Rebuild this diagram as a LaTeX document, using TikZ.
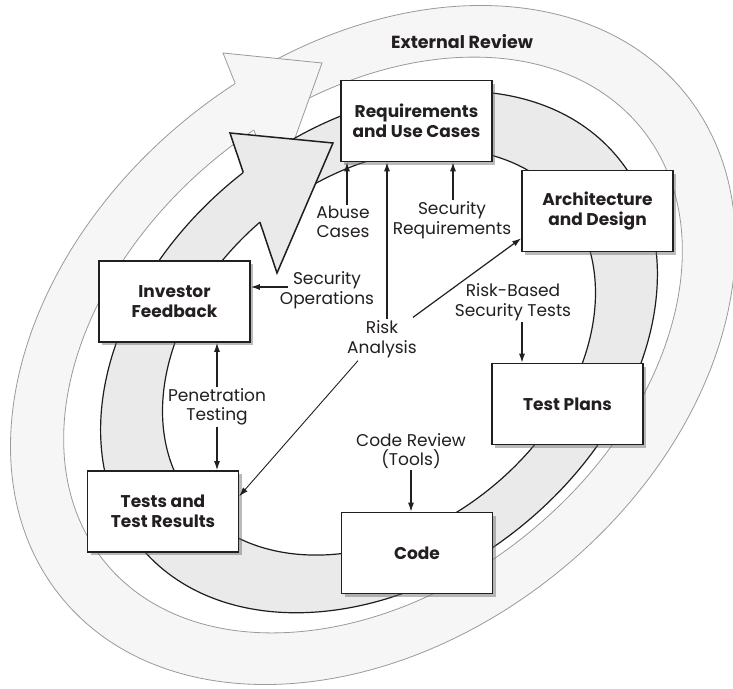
\documentclass[tikz,border=0pt]{standalone}
\usepackage{fontspec}
\setmainfont{Poppins}
\usetikzlibrary{arrows.meta,shadows,intersections,calc}
\definecolor{outerfill}{HTML}{F6F6F6}
\definecolor{outerline}{HTML}{9A9A9A}
\definecolor{innerfill}{HTML}{EAEAEB}
\definecolor{innerline}{HTML}{1E1E1E}
\definecolor{ink}{HTML}{231F20}
\begin{document}
\begin{tikzpicture}[x=1pt,y=-1pt,
  box/.style={draw=ink, line width=1.6pt, fill=white, minimum width=151pt, minimum height=81pt,
    align=center, font=\bfseries\fontsize{17}{20}\selectfont, text=ink,
    drop shadow={shadow xshift=3pt, shadow yshift=-3pt, opacity=0.45, fill=black!60}},
  lbl/.style={align=center, font=\fontsize{17}{19.5}\selectfont, text=ink, inner sep=1pt},
  arr/.style={draw=ink, line width=1.2pt, -{Latex[length=9pt,width=6pt]}},
  oline/.style={draw=outerline, line width=0.8pt},
  iline/.style={draw=innerline, line width=1.2pt},
]
\useasboundingbox (0,0) rectangle (733,688);
\fill[white] (0,0) rectangle (733,688);

% outer ring
\begin{scope}[shift={(373,345)}, rotate=38.8]
  \path[fill=outerfill, even odd rule] (0,0) ellipse [x radius=401, y radius=293]
                                       (0,0) ellipse [x radius=345, y radius=244];
  \draw[oline, name path global=oo] (0,0) ellipse [x radius=401, y radius=293];
  \draw[oline, name path global=oi] (0,0) ellipse [x radius=345, y radius=244];
\end{scope}
\path[name path=obase] (223,53) -- (277,188);
\path[name intersections={of=obase and oo, by=oN1}];
\path[name intersections={of=obase and oi, by=oN2}];
\fill[outerfill] (223,53) -- (322,63) -- (277,188) -- cycle;
\draw[oline, line join=miter] (oN1) -- (223,53) -- (322,63) -- (277,188) -- (oN2);

% inner ring
\begin{scope}[shift={(379,352)}, rotate=38.8]
  \path[fill=innerfill, even odd rule] (0,0) ellipse [x radius=308, y radius=225]
                                       (0,0) ellipse [x radius=239, y radius=176];
  \draw[iline, name path global=io] (0,0) ellipse [x radius=308, y radius=225];
  \draw[iline, name path global=ii] (0,0) ellipse [x radius=239, y radius=176];
\end{scope}
\path[name path=ibase] (230,133) -- (277,273);
\path[name intersections={of=ibase and io, by=iN1}];
\path[name intersections={of=ibase and ii, by=iN2}];
\fill[innerfill] (230,133) -- (333,143) -- (277,273) -- cycle;
\draw[iline, line width=1.5pt, line join=miter] (iN1) -- (230,133) -- (333,143) -- (277,273) -- (iN2);

% title
\node[font=\bfseries\fontsize{17.5}{20}\selectfont, text=ink] (ext) at (462,42) {External Review};

% boxes
\node[box] (req)   at (416.5,121)  {Requirements\\and Use Cases};
\node[box] (arch)  at (597.5,211)  {Architecture\\and Design};
\node[box] (inv)   at (174.5,301.5){Investor\\Feedback};
\node[box] (tp)    at (567.5,404)  {Test Plans};
\node[box] (tests) at (163,511.5)  {Tests and\\Test Results};
\node[box] (code)  at (417,553)    {Code};

% labels
\node[lbl] (abuse)  at (343,222) {Abuse\\Cases};
\node[lbl] (secreq) at (452,220) {Security\\Requirements};
\node[lbl] (secops) at (327,290) {Security\\Operations};
\node[lbl] (risk)   at (382,339) {Risk\\Analysis};
\node[lbl] (rbst)   at (513,302) {Risk-Based\\Security Tests};
\node[lbl] (pen)    at (217,407) {Penetration\\Testing};
\node[lbl] (codrev) at (411,451) {Code Review\\(Tools)};

% connectors
\coordinate (abT) at ([xshift=4pt]abuse.north);
\draw[arr] (abT) -- (abT |- req.south);
\coordinate (srT) at ([xshift=1pt]secreq.north);
\draw[arr] (srT) -- (srT |- req.south);
\coordinate (rkT) at ([xshift=5pt]risk.north);
\draw[arr] (rkT) -- (rkT |- req.south);
\draw[arr] ([xshift=-5pt,yshift=2pt]risk.north east) -- ([yshift=14pt]arch.south west);
\draw[arr, line width=0.9pt] ([xshift=12pt,yshift=-2pt]risk.south west) -- ([yshift=-26pt]tests.north east);
\coordinate (soS) at ([xshift=9pt,yshift=3pt]secops.west);
\draw[arr] (soS) -- (soS -| inv.east);
\draw[arr] (pen.north) -- (pen.north |- inv.south);
\draw[arr] (pen.south) -- (pen.south |- tests.north);
\coordinate (rbS) at ([xshift=9pt]rbst.south);
\draw[arr] (rbS) -- (rbS |- tp.north);
\draw[arr] (codrev.south) -- (codrev.south |- code.north);
\end{tikzpicture}
\end{document}
